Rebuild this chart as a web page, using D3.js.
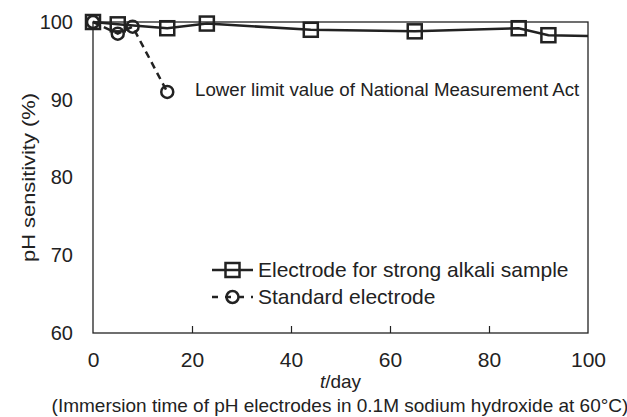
<!DOCTYPE html>
<html>
<head>
<meta charset="utf-8">
<script src="https://cdn.jsdelivr.net/npm/d3@7"></script>
<style>
  body { margin: 0; background: #fff; }
  svg { font-family: "Liberation Sans", Arial, sans-serif; }
</style>
</head>
<body>
<svg id="chart" width="627" height="417"></svg>
<script>
// data
const alkaliDays = [0, 5, 15, 23, 44, 65, 86, 92, 100];
const alkaliVals = [100, 99.7, 99.2, 99.8, 99.0, 98.8, 99.2, 98.3, 98.2];
const alkaliMarks = [true, true, true, true, true, true, true, true, false];
const standardDays = [0, 5, 8, 15];
const standardVals = [100, 98.5, 99.4, 91.0];
const xTicks = [0, 20, 40, 60, 80, 100];
const yTicks = [60, 70, 80, 90, 100];

const ink = "#222";
const svg = d3.select("#chart");
const margin = { left: 93, right: 39, top: 22, bottom: 84 };
const width = 627 - margin.left - margin.right;
const height = 417 - margin.top - margin.bottom;

const x = d3.scaleLinear().domain([0, 100]).range([0, width]);
const y = d3.scaleLinear().domain([60, 100]).range([height, 0]);

const g = svg.append("g").attr("transform", `translate(${margin.left},${margin.top})`);

// frame
g.append("rect")
    .attr("width", width).attr("height", height)
    .attr("fill", "none").attr("stroke", ink).attr("stroke-width", 1.3);

// x axis: inward ticks, labels below
const xAxis = g.append("g")
    .attr("transform", `translate(0,${height})`)
    .call(d3.axisBottom(x).tickValues(xTicks).tickSize(-7).tickPadding(19));
xAxis.select(".domain").remove();
xAxis.selectAll("line").attr("stroke", ink).attr("stroke-width", 1.2);
xAxis.selectAll(".tick").filter(d => d === 0 || d === 100).select("line").remove();
xAxis.selectAll("text").attr("font-size", 21).attr("fill", ink).attr("font-family", null);

const yAxis = g.append("g")
    .call(d3.axisLeft(y).tickValues(yTicks).tickSize(0).tickPadding(20));
yAxis.select(".domain").remove();
yAxis.selectAll("text").attr("font-size", 20).attr("fill", ink).attr("font-family", null);

// axis titles
const xt = svg.append("text")
    .attr("x", margin.left + width / 2).attr("y", 388)
    .attr("text-anchor", "middle").attr("font-size", 19).attr("fill", ink);
xt.append("tspan").attr("font-style", "italic").text("t");
xt.append("tspan").text("/day");

svg.append("text")
    .attr("x", 340).attr("y", 412)
    .attr("text-anchor", "middle").attr("font-size", 19).attr("fill", ink)
    .text("(Immersion time of pH electrodes in 0.1M sodium hydroxide at 60°C)");

svg.append("text")
    .attr("transform", `translate(35,${margin.top + height / 2}) rotate(-90)`)
    .attr("text-anchor", "middle").attr("font-size", 19).attr("fill", ink)
    .attr("textLength", 169).attr("lengthAdjust", "spacingAndGlyphs")
    .text("pH sensitivity (%)");

// series
const alkali = alkaliDays.map((d, i) => ({ x: d, y: alkaliVals[i], mark: alkaliMarks[i] }));
const standard = standardDays.map((d, i) => ({ x: d, y: standardVals[i] }));
const line = d3.line().x(d => x(d.x)).y(d => y(d.y));

g.append("path").datum(standard)
    .attr("d", line).attr("fill", "none")
    .attr("stroke", ink).attr("stroke-width", 2.5).attr("stroke-dasharray", "7,5");

g.append("path").datum(alkali)
    .attr("d", line).attr("fill", "none")
    .attr("stroke", ink).attr("stroke-width", 2.5);

g.selectAll(".sq").data(alkali.filter(d => d.mark))
    .enter().append("rect")
    .attr("class", "sq")
    .attr("x", d => x(d.x) - 7).attr("y", d => y(d.y) - 7)
    .attr("width", 14).attr("height", 14)
    .attr("fill", "none").attr("stroke", ink).attr("stroke-width", 2.5);

g.selectAll(".ci").data(standard)
    .enter().append("circle")
    .attr("class", "ci")
    .attr("cx", d => x(d.x)).attr("cy", d => y(d.y)).attr("r", 6)
    .attr("fill", "none").attr("stroke", ink).attr("stroke-width", 2.5);

// annotation
g.append("text")
    .attr("x", 195 - margin.left).attr("y", 96 - margin.top)
    .attr("font-size", 18.7).attr("fill", ink)
    .text("Lower limit value of National Measurement Act");

// legend
const legend = g.append("g").attr("transform", `translate(${212 - margin.left},${270 - margin.top})`);
const items = [
    { label: "Electrode for strong alkali sample", dash: null, shape: "sq" },
    { label: "Standard electrode", dash: "6,7", shape: "ci" }
];
items.forEach((it, i) => {
    const row = legend.append("g").attr("transform", `translate(0,${i * 27})`);
    row.append("line").attr("x1", 0).attr("x2", 41)
        .attr("stroke", ink).attr("stroke-width", 2.5)
        .attr("stroke-dasharray", it.dash);
    if (it.shape === "sq") {
        row.append("rect").attr("x", 13.5).attr("y", -7).attr("width", 14).attr("height", 14)
            .attr("fill", "none").attr("stroke", ink).attr("stroke-width", 2.5);
    } else {
        row.append("circle").attr("cx", 20.5).attr("r", 6)
            .attr("fill", "none").attr("stroke", ink).attr("stroke-width", 2.5);
    }
    row.append("text").attr("x", 46).attr("dy", "0.35em")
        .attr("font-size", 21).attr("fill", ink).text(it.label);
});
</script>
</body>
</html>
